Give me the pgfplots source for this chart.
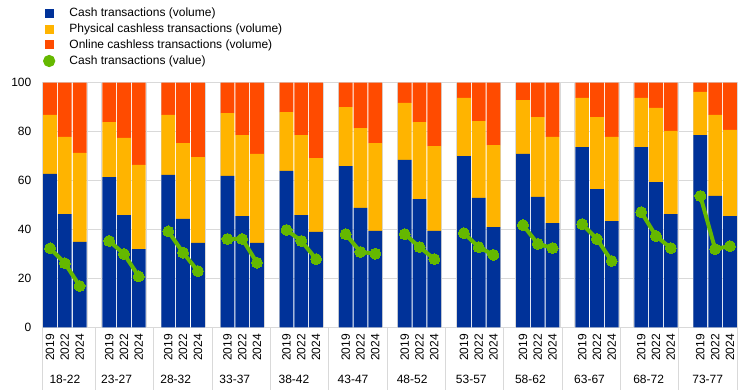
\documentclass[border=0pt]{standalone}
\usepackage{pgfplots}
\usepackage{pgfplotstable}
\pgfplotsset{compat=1.18}
\usepackage{fontspec}
\setmainfont{Liberation Sans}
\definecolor{cblue}{HTML}{003299}
\definecolor{cyellow}{HTML}{FFB400}
\definecolor{corange}{HTML}{FF4B00}
\definecolor{cgreen}{HTML}{65B800}
\definecolor{gridgray}{HTML}{D9D9D9}

\pgfplotstableread{
x cash phys online
0 62.7 24.1 13.2
1 46.3 31.5 22.2
2 34.9 36.4 28.7
4 61.4 22.5 16.1
5 45.9 31.5 22.6
6 32.0 34.4 33.6
8 62.3 24.5 13.2
9 44.3 31.0 24.7
10 34.5 35.1 30.4
12 61.9 25.7 12.4
13 45.5 33.1 21.4
14 34.5 36.4 29.1
16 63.9 24.1 12.0
17 45.9 32.7 21.4
18 39.0 30.2 30.8
20 65.9 24.1 10.0
21 48.8 32.6 18.6
22 39.4 35.9 24.7
24 68.4 23.3 8.3
25 52.4 31.5 16.1
26 39.4 34.7 25.9
28 70.0 23.8 6.2
29 52.9 31.4 15.7
30 41.0 33.5 25.5
32 70.9 22.0 7.1
33 53.3 32.6 14.1
34 42.6 35.2 22.2
36 73.7 20.1 6.2
37 56.5 29.4 14.1
38 43.4 34.4 22.2
40 73.7 20.1 6.2
41 59.4 30.3 10.3
42 46.3 34.0 19.7
44 78.6 17.6 3.8
45 53.7 33.1 13.2
46 45.5 35.2 19.3
}\vol

\pgfplotstableread{
x value
0 32.3
1 26.2
2 16.9
3 nan
4 35.3
5 30.0
6 20.8
7 nan
8 39.2
9 30.5
10 23.0
11 nan
12 36.1
13 36.1
14 26.4
15 nan
16 39.8
17 35.3
18 27.9
19 nan
20 38.1
21 30.8
22 30.1
23 nan
24 38.1
25 32.8
26 27.9
27 nan
28 38.5
29 32.8
30 29.6
31 nan
32 41.8
33 34.1
34 32.4
35 nan
36 42.2
37 36.1
38 27.1
39 nan
40 47.1
41 37.3
42 32.4
43 nan
44 53.7
45 32.0
46 33.2
}\val

\pgfplotsset{
  common/.style={
    at={(42.7pt,62.7pt)}, anchor=south west,
    scale only axis, width=694.6pt, height=244.6pt,
    xmin=-0.5, xmax=46.5, ymin=0, ymax=100,
  }
}

\begin{document}
\begin{tikzpicture}[font=\fontsize{12}{14}\selectfont]
\begin{axis}[common,
  ybar stacked, bar width=0.93,
  ytick={0,20,...,100},
  ymajorgrids,
  grid style={gridgray, line width=0.75pt},
  minor xtick={2.5,3.5,6.5,7.5,10.5,11.5,14.5,15.5,18.5,19.5,22.5,23.5,26.5,27.5,30.5,31.5,34.5,35.5,38.5,39.5,42.5,43.5},
  xminorgrids,
  minor grid style={gridgray, line width=0.75pt},
  axis line style={gridgray, line width=0.75pt},
  major tick length=0pt, minor tick length=0pt,
  xtick={0,1,2,4,5,6,8,9,10,12,13,14,16,17,18,20,21,22,24,25,26,28,29,30,32,33,34,36,37,38,40,41,42,44,45,46},
  xticklabels={2019,2022,2024,2019,2022,2024,2019,2022,2024,2019,2022,2024,2019,2022,2024,2019,2022,2024,2019,2022,2024,2019,2022,2024,2019,2022,2024,2019,2022,2024,2019,2022,2024,2019,2022,2024},
  xticklabel style={rotate=90, anchor=east, inner sep=0pt, font=\fontsize{12}{14}\selectfont},
  xticklabel shift=6.7pt,
  yticklabel style={anchor=east, inner sep=0pt, font=\fontsize{12}{14}\selectfont},
  yticklabel shift=11.2pt,
  /pgf/number format/assume math mode=true,
  clip=false,
]
\addplot[fill=cblue, draw=none] table[x=x, y=cash]{\vol};
\addplot[fill=cyellow, draw=none] table[x=x, y=phys]{\vol};
\addplot[fill=corange, draw=none] table[x=x, y=online]{\vol};
\foreach \g/\c in {0/18-22, 1/23-27, 2/28-32, 3/33-37, 4/38-42, 5/43-47, 6/48-52, 7/53-57, 8/58-62, 9/63-67, 10/68-72, 11/73-77}{
  \pgfmathsetmacro{\cx}{\g==0 ? 1 : 4*\g+0.5}
  \edef\temp{\noexpand\node[inner sep=0pt] at (axis cs:\cx,0) [yshift=-51.7pt] {\c};}
  \temp
}
\end{axis}
\begin{axis}[common,
  hide axis,
  legend style={at={(0.0004,1.3053)}, anchor=north west, draw=none, fill=none,
    inner sep=0pt, row sep=5.4pt, column sep=0pt,
    nodes={inner sep=0pt}, font=\fontsize{12}{14}\selectfont},
  legend cell align=left,
]
\addlegendimage{legend image code/.code={\fill[cblue] (0pt,-4pt) rectangle (7.5pt,4pt); \path (22pt,0pt);}}
\addlegendentry{Cash transactions (volume)}
\addlegendimage{legend image code/.code={\fill[cyellow] (0pt,-4pt) rectangle (7.5pt,4pt); \path (22pt,0pt);}}
\addlegendentry{Physical cashless transactions (volume)}
\addlegendimage{legend image code/.code={\fill[corange] (0pt,-4pt) rectangle (7.5pt,4pt); \path (22pt,0pt);}}
\addlegendentry{Online cashless transactions (volume)}
\addplot[cgreen, line width=4pt, mark=*, mark size=5.5pt, mark options={fill=cgreen, draw=cgreen, line width=0pt}, unbounded coords=jump,
  legend image code/.code={\fill[cgreen] (3.7pt,0pt) circle (4pt); \path (22pt,0pt);}]
  table[x=x, y=value]{\val};
\addlegendentry{Cash transactions (value)}
\end{axis}
\foreach \xx in {42.7, 95.4, 153.7, 212.0, 270.4, 328.7, 387.0, 445.3, 503.6, 562.0, 620.3, 678.7, 737.3}{
  \draw[gridgray, line width=0.75pt] (\xx pt,62.7pt) -- (\xx pt,0pt);
}
\pgfresetboundingbox
\path[use as bounding box] (0,0) rectangle (744pt,390pt);
\end{tikzpicture}
\end{document}
